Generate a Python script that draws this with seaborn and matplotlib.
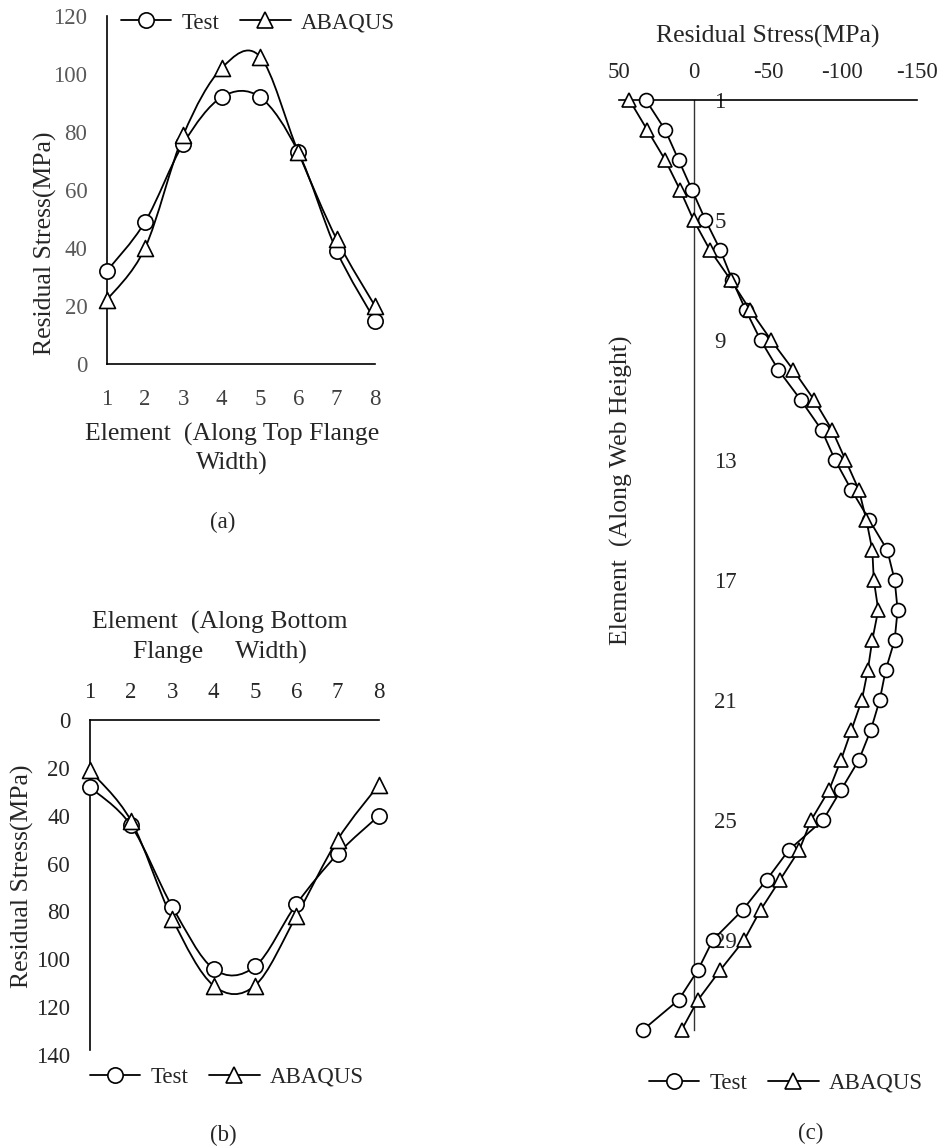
# Residual stress distribution: top flange, bottom flange and web
import numpy as np
import matplotlib
matplotlib.use("Agg")
import matplotlib.pyplot as plt
import seaborn as sns
from matplotlib.path import Path
from matplotlib.patches import PathPatch
from matplotlib.lines import Line2D

# --- data ---
flange_elements = [1, 2, 3, 4, 5, 6, 7, 8]
top_test = [32, 49, 76, 92, 92, 73, 39, 15]
top_abaqus = [22, 40, 79, 102, 106, 73, 43, 20]
bottom_test = [28, 44, 78, 104, 103, 77, 56, 40]
bottom_abaqus = [21, 42, 83, 111, 111, 82, 50, 27]

web_elements = list(range(1, 33))
web_test = [32, 19, 10, 1, -8, -18, -26, -35, -45, -57, -72, -86, -95, -106, -118, -130,
            -135, -137, -135, -129, -125, -119, -111, -99, -87, -64, -49, -33, -13, -3, 10, 34]
web_abaqus = [43, 31, 19, 9, 0, -11, -25, -38, -52, -67, -81, -93, -102, -111, -116, -120,
              -121, -124, -120, -117, -113, -106, -99, -91, -79, -71, -58, -45, -34, -18, -3, 8]

web_ticks = [1, 5, 9, 13, 17, 21, 25, 29]
stress_ticks = [50, 0, -50, -100, -150]
series_names = ["Test", "ABAQUS"]

sns.set_theme(style="white")
plt.rcParams["font.family"] = ["Liberation Serif", "DejaVu Serif"]
plt.rcParams["axes.unicode_minus"] = False

W, H = 943, 1147
fig = plt.figure(figsize=(W / 100, H / 100), dpi=100)

TICK_FS = 16.5
LABEL_FS = 18.5


def box(left, top, right, bottom):
    # pixel box -> figure fraction
    return [left / W, 1 - bottom / H, (right - left) / W, (bottom - top) / H]


def smooth_path(x, y):
    # excel style smoothed line (catmull-rom as bezier)
    p = np.column_stack([x, y]).astype(float)
    n = len(p)
    verts = [p[0]]
    codes = [Path.MOVETO]
    for i in range(n - 1):
        p0, p1, p2, p3 = p[max(i - 1, 0)], p[i], p[i + 1], p[min(i + 2, n - 1)]
        verts += [p1 + (p2 - p0) / 6, p2 - (p3 - p1) / 6, p2]
        codes += [Path.CURVE4] * 3
    return Path(verts, codes)


LW = 1.3
MS_O = 11
MS_T = 11.5
handles = [
    Line2D([], [], color="black", lw=LW, marker="o", ms=MS_O, mfc="white", mec="black", mew=1.2),
    Line2D([], [], color="black", lw=LW, marker="^", ms=MS_T, mfc="white", mec="black", mew=1.2),
]
leg_kw = dict(frameon=False, ncol=2, fontsize=16.5, handlelength=2.2,
              handletextpad=0.45, columnspacing=0.9)


def flange_series(ax, y1, y2):
    for vals, mk, ms in [(y1, "o", MS_O), (y2, "^", MS_T)]:
        ax.add_patch(PathPatch(smooth_path(flange_elements, vals), fill=False,
                               ec="black", lw=LW, zorder=2))
        sns.scatterplot(x=flange_elements, y=vals, marker=mk, s=ms ** 2, color="white",
                        edgecolor="black", linewidth=1.2, zorder=3, ax=ax, clip_on=False)


def style_axes(ax):
    ax.set_facecolor("none")
    ax.grid(False)
    for s in ax.spines.values():
        s.set_color("black")
        s.set_linewidth(1.2)
    ax.tick_params(length=0, labelsize=TICK_FS)


# (a) top flange
ax1 = fig.add_axes(box(106.7, 16, 375, 364))
flange_series(ax1, top_test, top_abaqus)
style_axes(ax1)
ax1.set_xlim(1, 8)
ax1.set_ylim(0, 120)
ax1.set_xticks(flange_elements)
ax1.set_yticks([0, 20, 40, 60, 80, 100, 120])
ax1.spines[["top", "right"]].set_visible(False)
ax1.tick_params(axis="x", pad=18, labelcolor="#404040")
ax1.tick_params(axis="y", pad=14, labelcolor="#595959")
ax1.set_xlabel("Element  (Along Top Flange\nWidth)", fontsize=LABEL_FS, va="center",
               linespacing=1.38)
ax1.xaxis.set_label_coords(0.467, -0.244)
ax1.set_ylabel("Residual Stress(MPa)", fontsize=LABEL_FS, va="center")
ax1.yaxis.set_label_coords(-0.23, 0.348)
fig.legend(handles, series_names, loc="center", bbox_to_anchor=(258 / W, 1 - 23 / H), **leg_kw)
fig.text(223 / W, 1 - 522 / H, "(a)", ha="center", va="center", fontsize=16.5)

# (b) bottom flange
ax2 = fig.add_axes(box(89.5, 720, 379, 1055))
flange_series(ax2, bottom_test, bottom_abaqus)
style_axes(ax2)
ax2.set_xlim(1, 8)
ax2.set_ylim(140, 0)
ax2.set_xticks(flange_elements)
ax2.set_yticks([0, 20, 40, 60, 80, 100, 120, 140])
ax2.spines[["bottom", "right"]].set_visible(False)
ax2.spines["left"].set_bounds(0, 138)
ax2.xaxis.tick_top()
ax2.xaxis.set_label_position("top")
ax2.tick_params(axis="x", pad=12)
ax2.tick_params(axis="y", pad=14)
ax2.set_xlabel("Element  (Along Bottom\nFlange     Width)", fontsize=LABEL_FS, va="center",
               linespacing=1.38)
ax2.xaxis.set_label_coords(0.451, 1.246)
ax2.set_ylabel("Residual Stress(MPa)", fontsize=LABEL_FS, va="center")
ax2.yaxis.set_label_coords(-0.23, 0.534)
fig.legend(handles, series_names, loc="center", bbox_to_anchor=(227 / W, 1 - 1077 / H), **leg_kw)
fig.text(223 / W, 1 - 1135 / H, "(b)", ha="center", va="center", fontsize=16.5)

# (c) web
ax3 = fig.add_axes(box(619, 100, 917, 1030))
ms_c = 10
sns.lineplot(x=web_test, y=web_elements, sort=False, estimator=None, color="black", lw=LW,
             marker="o", markersize=ms_c, markerfacecolor="white", markeredgecolor="black",
             markeredgewidth=1.2, ax=ax3, clip_on=False, zorder=3)
sns.lineplot(x=web_abaqus, y=web_elements, sort=False, estimator=None, color="black", lw=LW,
             marker="^", markersize=ms_c + 0.5, markerfacecolor="white", markeredgecolor="black",
             markeredgewidth=1.2, ax=ax3, clip_on=False, zorder=3)
style_axes(ax3)
ax3.set_xlim(50, -150)
ax3.set_ylim(32, 1)
ax3.set_xticks(stress_ticks)
ax3.set_yticks(web_ticks)
ax3.spines[["bottom", "left"]].set_visible(False)
ax3.spines["right"].set_position(("data", 0))
ax3.spines["right"].set_color("#333333")
ax3.spines["right"].set_linewidth(1.0)
ax3.xaxis.tick_top()
ax3.xaxis.set_label_position("top")
ax3.yaxis.tick_right()
ax3.tick_params(axis="x", pad=12)
ax3.tick_params(axis="y", pad=15)
ax3.set_xlabel("Residual Stress(MPa)", fontsize=LABEL_FS, va="center")
ax3.xaxis.set_label_coords(0.5, 1.068)
ax3.set_ylabel("Element  (Along Web Height)", fontsize=LABEL_FS, va="center")
ax3.yaxis.set_label_position("left")
ax3.yaxis.set_label_coords(0.047, 0.58)
fig.legend(handles, series_names, loc="center", bbox_to_anchor=(786 / W, 1 - 1083 / H), **leg_kw)
fig.text(811 / W, 1 - 1133 / H, "(c)", ha="center", va="center", fontsize=16.5)

fig.savefig("out.png", dpi=100)
